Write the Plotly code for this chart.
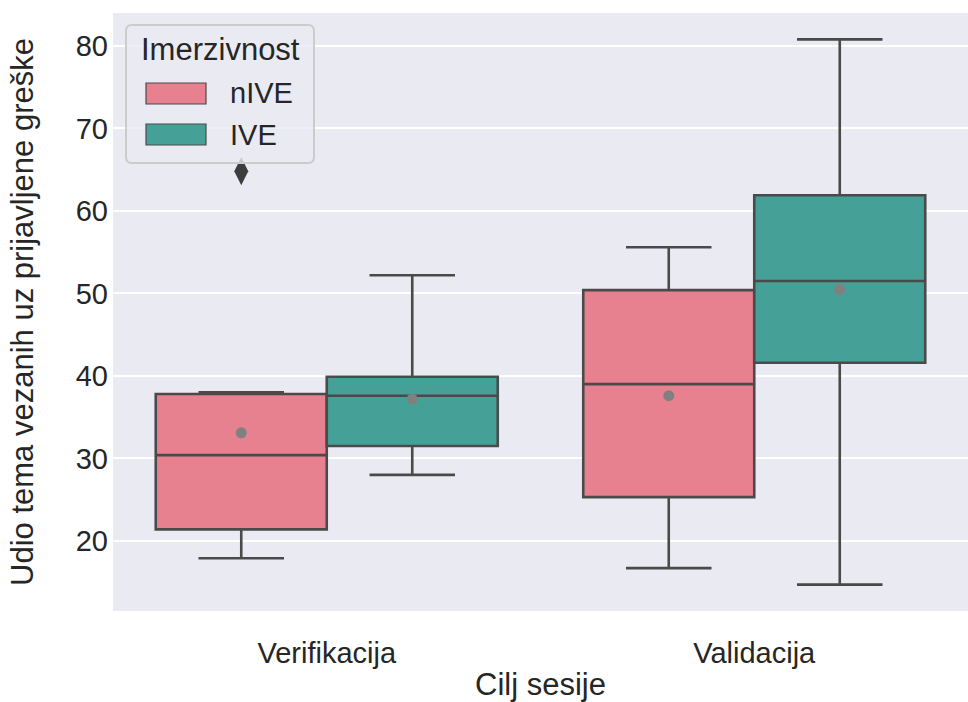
import plotly.graph_objects as go

categories = ["Verifikacija", "Validacija"]
groups = ["nIVE", "IVE"]
colors = ["#e7808f", "#45a097"]
legend_title = "Imerzivnost"

# Box statistics per group, one value per category
q1 = {"nIVE": [21.4, 25.3], "IVE": [31.5, 41.6]}
median = {"nIVE": [30.4, 39.0], "IVE": [37.6, 51.5]}
q3 = {"nIVE": [37.8, 50.4], "IVE": [39.9, 61.9]}
lowerfence = {"nIVE": [17.9, 16.7], "IVE": [28.0, 14.7]}
upperfence = {"nIVE": [38.0, 55.6], "IVE": [52.2, 80.8]}
means = {"nIVE": [33.1, 37.6], "IVE": [37.2, 50.5]}
outliers_cat = ["Verifikacija"]
outliers_grp = ["nIVE"]
outliers_val = [64.8]

W, H = 968, 702
ML, MR, MT, MB = 113, 0, 13, 91
offsets = {"nIVE": -0.2, "IVE": 0.2}
box_width = 0.4
line_col = "#4a4a4a"
txt_col = "#262626"
font_family = "Liberation Sans, Arial, sans-serif"


def px_x(p):
    return (p - ML) / (W - ML - MR)


def px_y(p):
    return (H - MB - p) / (H - MT - MB)


fig = go.Figure()
for g, c in zip(groups, colors):
    xs = [i + offsets[g] for i in range(len(categories))]
    fig.add_trace(go.Box(
        name=g, x=xs, q1=q1[g], median=median[g], q3=q3[g],
        lowerfence=lowerfence[g], upperfence=upperfence[g],
        width=box_width, whiskerwidth=0.5, fillcolor=c,
        line=dict(color=line_col, width=2.6), boxpoints=False,
        showlegend=False,
    ))
for g in groups:
    xs = [i + offsets[g] for i in range(len(categories))]
    fig.add_trace(go.Scatter(
        x=xs, y=means[g], mode="markers", showlegend=False,
        marker=dict(color="#808080", size=11), hoverinfo="y",
    ))
fig.add_trace(go.Scatter(
    x=[categories.index(c) + offsets[g] for c, g in zip(outliers_cat, outliers_grp)],
    y=outliers_val, mode="markers", showlegend=False,
    marker=dict(symbol="diamond-tall", color="#3d3d3d", size=20,
                line=dict(color="#3d3d3d", width=0)),
))

# Legend (drawn as a framed box with patches, like the seaborn legend)
lx0, lx1, ly0, ly1, r = 126, 314, 25, 163, 6
x0, x1, y0, y1 = px_x(lx0), px_x(lx1), px_y(ly0), px_y(ly1)
rx, ry = r / (W - ML - MR), r / (H - MT - MB)
path = (f"M {x0+rx},{y0} L {x1-rx},{y0} Q {x1},{y0} {x1},{y0-ry} "
        f"L {x1},{y1+ry} Q {x1},{y1} {x1-rx},{y1} L {x0+rx},{y1} "
        f"Q {x0},{y1} {x0},{y1+ry} L {x0},{y0-ry} Q {x0},{y0} {x0+rx},{y0} Z")
shapes = [dict(type="path", xref="paper", yref="paper", path=path,
               fillcolor="rgba(234,234,242,0.8)", line=dict(color="#cccccc", width=2),
               layer="above")]
annotations = [dict(text=legend_title, xref="paper", yref="paper",
                     x=px_x((lx0 + lx1) / 2), y=px_y(50), xanchor="center", yanchor="middle",
                     showarrow=False, font=dict(size=31, color=txt_col))]
for k, (g, c) in enumerate(zip(groups, colors)):
    cy = 93.5 + k * 41
    shapes.append(dict(type="rect", xref="paper", yref="paper",
                       x0=px_x(146), x1=px_x(206), y0=px_y(cy - 10.5), y1=px_y(cy + 10.5),
                       fillcolor=c, line=dict(color=line_col, width=1.2), layer="above"))
    annotations.append(dict(text=g, xref="paper", yref="paper", x=px_x(228), y=px_y(cy),
                            xanchor="left", yanchor="middle", showarrow=False,
                            font=dict(size=29, color=txt_col)))

fig.update_layout(
    width=W, height=H,
    margin=dict(l=ML, r=MR, t=MT, b=MB),
    paper_bgcolor="white", plot_bgcolor="#eaeaf2",
    font=dict(family=font_family, size=29, color=txt_col),
    boxmode="overlay",
    showlegend=False,
    shapes=shapes,
    annotations=annotations,
    xaxis=dict(
        range=[-0.5, 1.5], tickvals=list(range(len(categories))), ticktext=categories,
        showgrid=False, zeroline=False, showline=False, ticks="",
        ticklabelstandoff=22,
        title=dict(text="Cilj sesije", standoff=6, font=dict(size=31)),
        tickfont=dict(size=29),
    ),
    yaxis=dict(
        range=[11.5, 84.0], tickvals=[20, 30, 40, 50, 60, 70, 80],
        showgrid=True, gridcolor="white", gridwidth=2.2, zeroline=False,
        showline=False, ticks="", ticklabelstandoff=4,
        title=dict(text="Udio tema vezanih uz prijavljene greške", standoff=32, font=dict(size=31)),
        tickfont=dict(size=29),
    ),
)

fig.write_html(
    "out.html",
    config={"displayModeBar": False},
    post_script="document.body.style.margin='0';document.body.style.overflow='hidden';",
)
